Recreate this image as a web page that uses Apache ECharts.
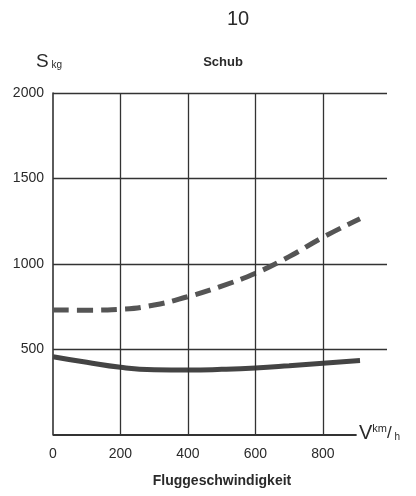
<!DOCTYPE html>
<html><head><meta charset="utf-8">
<script src="https://cdn.jsdelivr.net/npm/echarts@6/dist/echarts.min.js"></script>
<style>html,body{margin:0;padding:0;background:#fff}#c{width:416px;height:496px}</style>
</head><body><div id="c"></div>
<script>
const speed = [0, 100, 200, 300, 400, 500, 600, 700, 800, 910];
const schubSolid = [458, 425, 396, 382, 380, 384, 392, 405, 420, 435];
const schubDashed = [731, 730, 735, 760, 809, 871, 946, 1043, 1156, 1265];
const xTicks = [0, 200, 400, 600, 800];
const yTicks = [0, 500, 1000, 1500, 2000];

const F = '"Liberation Sans", Arial, sans-serif';
const chart = echarts.init(document.getElementById('c'));
const pair = (xs, ys) => xs.map((x, i) => [x, ys[i]]);
const ink = '#2a2a2a';

chart.setOption({
  backgroundColor: '#fff',
  animation: false,
  grid: { left: 53, right: 29, top: 93, bottom: 61 },
  xAxis: {
    type: 'value', min: 0, max: 990, interval: 200,
    axisLine: { show: false }, axisTick: { show: false },
    splitLine: { show: false },
    axisLabel: {
      margin: 12, color: ink, fontFamily: F, fontSize: 14,
      formatter: v => xTicks.includes(v) ? String(v) : ''
    }
  },
  yAxis: {
    type: 'value', min: 0, max: 2000, interval: 500,
    axisLine: { show: true, lineStyle: { color: '#333', width: 1.6 } },
    axisTick: { show: false },
    splitLine: { show: true, showMinLine: false, lineStyle: { color: '#333', width: 1.3 } },
    axisLabel: {
      margin: 9, color: ink, fontFamily: F, fontSize: 14,
      formatter: v => (yTicks.includes(v) && v !== 0) ? String(v) : ''
    }
  },
  series: [
    {
      type: 'line', data: pair(speed, schubSolid), smooth: true, showSymbol: false,
      lineStyle: { color: '#444', width: 5 }, z: 3,
      markLine: {
        silent: true, symbol: 'none', label: { show: false },
        lineStyle: { color: '#333', width: 1.3, type: 'solid' },
        data: xTicks.filter(v => v !== 0).map(v => ({ xAxis: v })).concat([
          [{ coord: [0, 0], lineStyle: { width: 2 } }, { coord: [900, 0] }]
        ])
      }
    },
    {
      type: 'line', data: pair(speed, schubDashed), smooth: true, showSymbol: false,
      lineStyle: { color: '#555', width: 5, type: [16, 8] }, z: 3
    }
  ],
  graphic: [
    { type: 'text', left: 227, top: 9, style: { text: '10', font: '20px ' + F, fill: ink } },
    { type: 'text', left: 36, top: 52, style: { text: '{a|S}{b| kg}', rich: {
        a: { fontSize: 19, fontFamily: F, fill: ink, verticalAlign: 'bottom' },
        b: { fontSize: 10, fontFamily: F, fill: ink, padding: [8, 0, 0, 0] } } } },
    { type: 'text', x: 223, y: 56, style: { text: 'Schub', font: 'bold 13px ' + F, fill: ink, textAlign: 'center' } },
    { type: 'text', left: 359, top: 423, style: { text: '{a|V}{b|km}{c|/}{d| h}', rich: {
        a: { fontSize: 20, fontFamily: F, fill: ink },
        b: { fontSize: 11, fontFamily: F, fill: ink, padding: [0, 0, 8, 0] },
        c: { fontSize: 17, fontFamily: F, fill: ink },
        d: { fontSize: 10, fontFamily: F, fill: ink, padding: [8, 0, 0, 0] } } } },
    { type: 'text', x: 222, y: 474, style: { text: 'Fluggeschwindigkeit', font: 'bold 14px ' + F, fill: ink, textAlign: 'center' } }
  ]
});
</script></body></html>
